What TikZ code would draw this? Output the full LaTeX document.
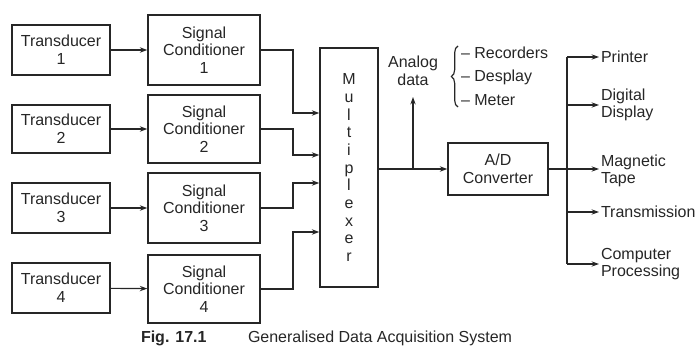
\documentclass[tikz,border=0pt]{standalone}
\usepackage{fontspec}
\setmainfont{Liberation Sans}
\usetikzlibrary{arrows.meta,decorations.pathreplacing}
\begin{document}
\begin{tikzpicture}[x=0.6pt,y=-0.6pt,
  every node/.style={font=\fontsize{9.6}{10.6}\selectfont, text=black!85},
  blk/.style={draw=black!85, line width=0.8pt, align=center, inner sep=0pt},
  lbl/.style={align=left, inner sep=1pt, anchor=west},
  ln/.style={draw=black!85, line width=0.7pt},
  conn/.style={ln, -{Stealth[length=4.5pt,width=3.2pt]}}]
\useasboundingbox (0,0) rectangle (699,353);
% transducers
\node[blk, minimum width={98*0.6pt}, minimum height={50*0.6pt}] (t1) at (61,50) {Transducer\\1};
\node[blk, minimum width={98*0.6pt}, minimum height={48*0.6pt}] (t2) at (61,129) {Transducer\\2};
\node[blk, minimum width={98*0.6pt}, minimum height={50*0.6pt}] (t3) at (61,208) {Transducer\\3};
\node[blk, minimum width={98*0.6pt}, minimum height={50*0.6pt}] (t4) at (61,288) {Transducer\\4};
% signal conditioners
\node[blk, minimum width={112*0.6pt}, minimum height={70*0.6pt}] (s1) at (204,50) {Signal\\Conditioner\\1};
\node[blk, minimum width={112*0.6pt}, minimum height={68*0.6pt}] (s2) at (204,129) {Signal\\Conditioner\\2};
\node[blk, minimum width={112*0.6pt}, minimum height={70*0.6pt}] (s3) at (204,208) {Signal\\Conditioner\\3};
\node[blk, minimum width={112*0.6pt}, minimum height={68*0.6pt}] (s4) at (204,289) {Signal\\Conditioner\\4};
% multiplexer
\node[blk, minimum width={58*0.6pt}, minimum height={239*0.6pt}] (mux) at (349,167.5) {M\\u\\l\\t\\i\\p\\l\\e\\x\\e\\r};
% A/D
\node[blk, minimum width={100*0.6pt}, minimum height={52*0.6pt}] (ad) at (498,169) {A/D\\Converter};
% analog data
\node[align=center, inner sep=1pt] (an) at (413,71) {Analog\\data};
\node[lbl] (rec) at (459,53) {– Recorders};
\node[lbl] (dsp) at (459,77) {– Desplay};
\node[lbl] (met) at (459,100) {– Meter};
\draw[ln, decorate, decoration={brace, amplitude=4pt}] (458,107) -- (458,46);
% outputs
\node[lbl] (pr) at (599,57) {Printer};
\node[lbl] (dd) at (599,105) {Digital\\Display};
\node[lbl] (mt) at (599,171) {Magnetic\\Tape};
\node[lbl] (tr) at (599,212) {Transmission};
\node[lbl] (cp) at (599,264) {Computer\\Processing};
% connectors transducer -> conditioner
\draw[conn] (t1) -- (s1);
\draw[conn] (t2) -- (s2);
\draw[conn] (t3) -- (s3);
\draw[conn] (t4) -- (s4);
% conditioner -> mux
\draw[conn] (s1.east) -- (293,50) -- (293,113) -- (mux.west |- 293,113);
\draw[conn] (s2.east) -- (293,129) -- (293,155) -- (mux.west |- 293,155);
\draw[conn] (s3.east) -- (293,208) -- (293,183) -- (mux.west |- 293,183);
\draw[conn] (s4.east) -- (293,289) -- (293,232) -- (mux.west |- 293,232);
% mux -> A/D and analog
\coordinate (br) at (413,169);
\draw[conn] (mux.east |- ad) -- (ad);
\draw[conn] (br) -- (413,97);
% output bus
\coordinate (bt) at (567,57);
\coordinate (bb) at (567,264);
\draw[ln] (bt) -- (bb);
\draw[conn] (ad.east) -- (599,169);
\draw[conn] (bt) -- (pr.west);
\draw[conn] (567,105) -- (dd.west);
\draw[conn] (567,212) -- (tr.west);
\draw[conn] (bb) -- (cp.west);
% caption
\node[lbl, font=\fontsize{9.6}{10.6}\selectfont\bfseries] (fig) at (139,338) {Fig. 17.1};
\node[lbl] (cap) at (246,338) {Generalised Data Acquisition System};
\end{tikzpicture}
\end{document}
